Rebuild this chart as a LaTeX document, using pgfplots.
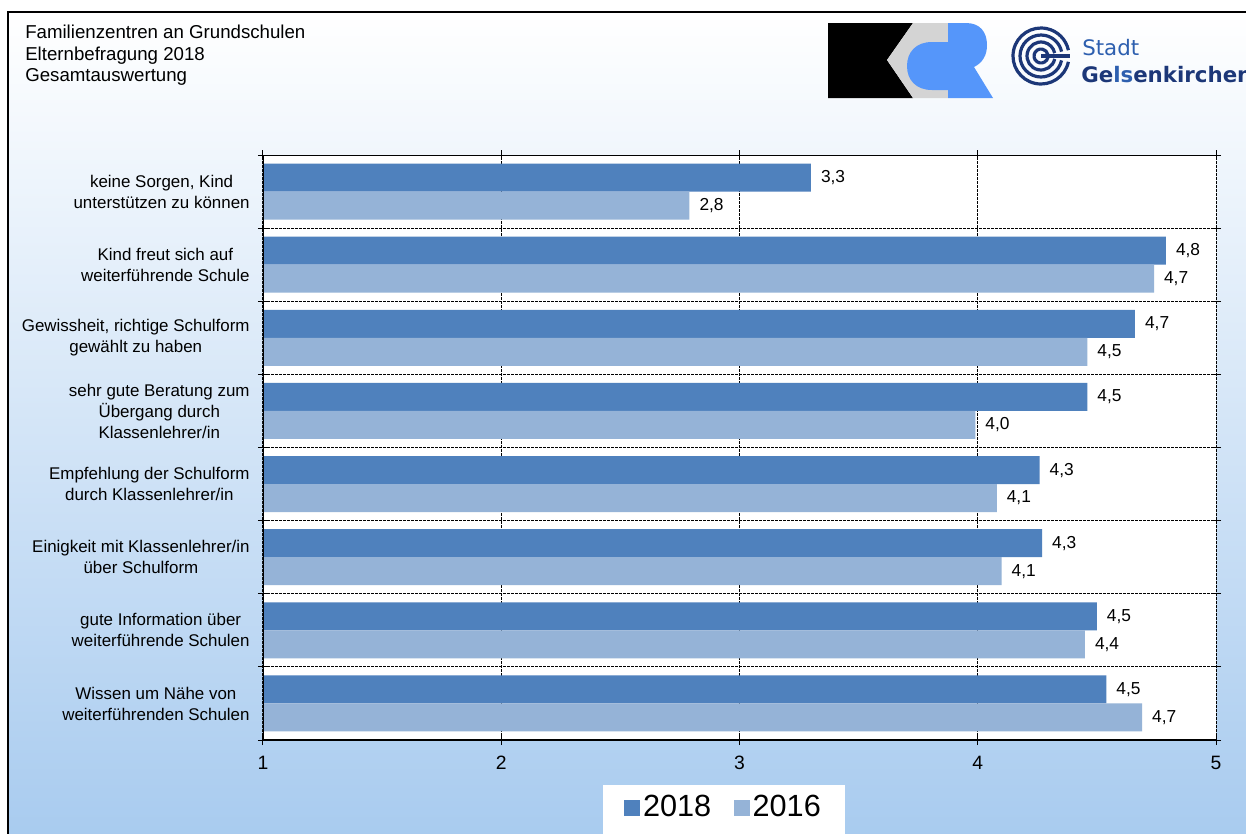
\documentclass[border=0pt]{standalone}
\usepackage{fontspec}
\setmainfont{Liberation Sans}
\newfontfamily\dejavu{DejaVu Sans}
\usepackage{pgfplots}
\pgfplotsset{compat=1.18}
\usepackage{pgfplotstable}

\definecolor{bar18}{RGB}{79,129,189}
\definecolor{bar16}{RGB}{149,179,215}
\definecolor{bgblue}{RGB}{168,203,239}
\definecolor{gknavy}{RGB}{28,55,120}
\definecolor{gkblue}{RGB}{45,95,175}
\definecolor{kcrblue}{RGB}{85,150,250}
\definecolor{kcrgray}{RGB}{212,212,212}

% y = position from bottom (8 = first category at top)
\pgfplotstableread{
y v18 l18 v16 l16
8 3.30 3,3 2.79 2,8
7 4.79 4,8 4.74 4,7
6 4.66 4,7 4.46 4,5
5 4.46 4,5 3.99 4,0
4 4.26 4,3 4.08 4,1
3 4.27 4,3 4.10 4,1
2 4.50 4,5 4.45 4,4
1 4.54 4,5 4.69 4,7
}\ratings

\begin{document}
\begin{tikzpicture}[x=0.75pt,y=-0.75pt]
\path[use as bounding box] (0,0) rectangle (1246,833);
\clip (0,0) rectangle (1246,833);
\shade[top color=white, bottom color=bgblue] (8,12) rectangle (1260,840);
\draw[line width=1.5pt] (8,850) -- (8,12) -- (1260,12);

% header text
\node[anchor=north west, align=left, inner sep=0pt,
      font=\fontsize{14}{16.1}\selectfont] at (25,25)
  {Familienzentren an Grundschulen\\Elternbefragung 2018\\Gesamtauswertung};

% KCR logo
\fill[black] (828,23) -- (913,23) -- (887,60) -- (913,98) -- (828,98) -- cycle;
\fill[kcrgray] (913,23) -- (948,23) -- (948,98) -- (913,98) -- (887,60) -- cycle;
\fill[kcrblue] (948,42) -- (932,42) .. controls (916,42) and (907,52) .. (907,66)
  .. controls (907,80) and (916,90) .. (932,90) -- (948,90) -- cycle;
\fill[kcrblue] (948,23) -- (966,23) .. controls (980,23) and (987,32) .. (987,45)
  .. controls (987,56) and (982,63) .. (974,67) -- (993,98) -- (948,98) -- cycle;

% Gelsenkirchen logo
\foreach \r in {28,21,14,7}
  \draw[gknavy, line width=2.4pt] (1041,56) ++(12:\r) arc[start angle=12, end angle=348, radius=\r];
\draw[gknavy, line width=2.4pt] (1041,56) -- (1070,56);
\node[anchor=base west, inner sep=0pt, text=gkblue,
      font=\dejavu\fontsize{16}{16}\selectfont] at (1082,55) {Stadt};
\node[anchor=base west, inner sep=0pt, text=gknavy,
      font=\dejavu\bfseries\fontsize{16}{16}\selectfont] at (1081,82)
  {Ge\textcolor{gkblue}{ls}enkirchen};

\begin{axis}[
  at={(197.25pt,-555pt)}, anchor=south west,
  scale only axis, width=714.75pt, height=438.75pt,
  xbar, bar width=21pt,
  xmin=1, xmax=5, ymin=0.5, ymax=8.5,
  xtick={1,2,3,4,5},
  ytick={0.5,1.5,...,8.5}, yticklabels={},
  extra y ticks={1,2,3,4,5,6,7,8},
  extra y tick labels={{Wissen um Nähe von\\weiterführenden Schulen},
    {gute Information über\\weiterführende Schulen},
    {Einigkeit mit Klassenlehrer/in\\über Schulform},
    {Empfehlung der Schulform\\durch Klassenlehrer/in},
    {sehr gute Beratung zum\\Übergang durch\\Klassenlehrer/in},
    {Gewissheit, richtige Schulform\\gewählt zu haben},
    {Kind freut sich auf\\weiterführende Schule},
    {keine Sorgen, Kind\\unterstützen zu können}},
  extra y tick style={major tick length=0pt, grid=none,
    yticklabel style={align=center}},
  yticklabel style={align=center, font=\fontsize{12.7}{15.75}\selectfont, xshift=-6.5pt},
  xticklabel style={font=\fontsize{14.5}{16}\selectfont, yshift=-5pt},
  /pgf/number format/assume math mode=true,
  xmajorgrids, ymajorgrids,
  grid style={black, line width=0.75pt, dash pattern=on 2pt off 1pt},
  tick align=center, major tick length=7.5pt,
  tick style={black, line width=0.75pt},
  axis line style={black, line width=0.75pt, dash pattern=on 2pt off 1pt},
  axis background/.style={fill=white},
  point meta=explicit symbolic,
  nodes near coords,
  nodes near coords style={font=\fontsize{13}{15}\selectfont, anchor=west, xshift=4pt},
  legend style={at={(0.4837,0)}, anchor=north, yshift=-33.75pt, draw=none, fill=white,
    font=\fontsize{23}{23}\selectfont, legend columns=2,
    inner xsep=15.75pt, inner ysep=5pt,
    nodes={text depth=14pt},
    /tikz/every even column/.append style={column sep=15pt}},
  legend image code/.code={\fill[#1] (0pt,-0.75pt) rectangle (12pt,11.25pt);},
]
\addplot[fill=bar18, draw=none, bar shift=10.5pt] table[x=v18, y=y, meta=l18] {\ratings};
\addlegendentry{2018}
\addplot[fill=bar16, draw=none, bar shift=-10.5pt] table[x=v16, y=y, meta=l16] {\ratings};
\addlegendentry{2016}
\draw[black, line width=1pt] (rel axis cs:0,1) -- (rel axis cs:0,0) -- (rel axis cs:1,0);
\end{axis}
\end{tikzpicture}
\end{document}
